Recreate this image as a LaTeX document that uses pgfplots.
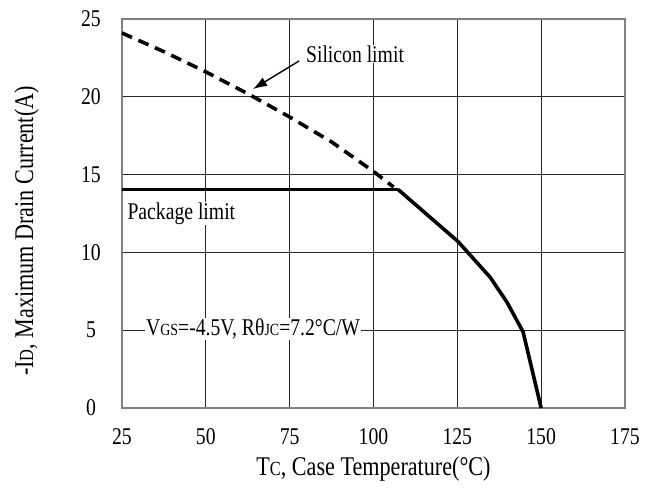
\documentclass[border=0pt]{standalone}
\usepackage{fontspec}
\setmainfont{Liberation Serif}[FakeStretch=0.82]
\usepackage{pgfplots}
\pgfplotsset{compat=1.18}
\usetikzlibrary{arrows.meta}
\newcommand\lbl{\fontsize{24}{28}\selectfont}
\newcommand\axlbl{\fontsize{27}{32}\selectfont}
\newcommand\sub[1]{{\fontsize{17}{17}\selectfont #1}}
\newcommand\bsub[1]{{\fontsize{20}{20}\selectfont #1}}
\begin{document}
\begin{tikzpicture}
\begin{axis}[
    scale only axis,
    width=503pt, height=389pt,
    xmin=25, xmax=175, ymin=0, ymax=25,
    xtick={25,50,...,175}, ytick={0,5,...,25},
    major tick length=0pt,
    grid=major,
    major grid style={black!85, line width=0.8pt},
    axis line style={black!50, line width=1.8pt},
    tick label style={font=\lbl},
    /pgf/number format/assume math mode=true,
    xticklabel style={anchor=center, yshift=-29pt},
    yticklabel style={anchor=center, xshift=-31pt},
    xlabel={T\bsub{C}, Case Temperature(°C)},
    ylabel={-I\bsub{D}, Maximum Drain Current(A)},
    label style={font=\axlbl},
    xlabel style={at={(axis description cs:0.5,-0.158)}, anchor=center},
    ylabel style={at={(axis description cs:-0.158,0.455)}, anchor=south},
    clip=false,
]
% silicon limit (dashed)
\addplot[black, line width=3.6pt, dash pattern=on 11pt off 7pt] coordinates {
    (25,24.1) (37.5,22.9) (50,21.6) (62.5,20.2) (75,18.7) (87.5,17.1) (100,15.2) (106,14.2)
};
% package limit
\addplot[black, line width=3.6pt] coordinates {
    (25,14.05) (107.3,14.05)
};
% derating curve
\addplot[black, line width=3.6pt] coordinates {
    (107.3,14.05) (125.2,10.7) (134.8,8.4) (139.8,6.8) (144.6,4.9) (150,0)
};
\node[font=\lbl, fill=white, inner sep=1pt] at (axis cs:94.5,22.75) {Silicon limit};
\draw[-{Latex[length=14pt,width=10pt]}, line width=1.4pt] (axis cs:77.8,22.3) -- (axis cs:64.1,20.5);
\node[font=\lbl, fill=white, inner sep=1pt, anchor=west] at (axis cs:26.3,12.5) {Package limit};
\node[font=\lbl, fill=white, inner sep=1pt] at (axis cs:64.1,5.08) {V\sub{GS}=-4.5V, Rθ\sub{JC}=7.2°C/W};
\path (axis description cs:-0.2425,-0.2159) rectangle (axis description cs:1.0577,1.0488);
\end{axis}
\end{tikzpicture}
\end{document}
